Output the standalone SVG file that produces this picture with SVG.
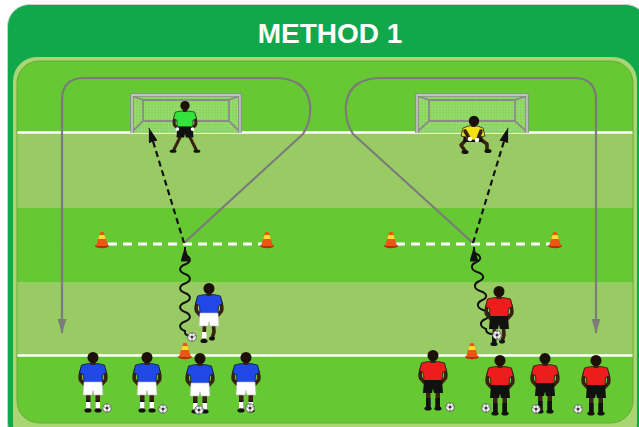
<svg xmlns="http://www.w3.org/2000/svg" width="639" height="427" viewBox="0 0 639 427">
<style>
.skin{fill:#3a2212}
.limb{fill:none;stroke:#3a2212;stroke-width:3.6;stroke-linecap:round;stroke-linejoin:round}
.hair{fill:#1c1009}
.shoe{fill:#111}
.edge{stroke:#111;stroke-width:0.7}
.loop{fill:none;stroke:#7b7b7b;stroke-width:2.2;stroke-linejoin:round}
.pass{fill:none;stroke:#111;stroke-width:2.2;stroke-dasharray:6 4}
.dribble{fill:none;stroke:#111;stroke-width:2}
.mark{fill:none;stroke:#fff;stroke-width:3;stroke-dasharray:9 6}
.line{stroke:#fff;stroke-width:2.6}
.post{fill:none;stroke:#8a8a8a;stroke-width:3.6;stroke-linejoin:round}
.postHi{fill:none;stroke:#d4d4d4;stroke-width:1.3;stroke-linejoin:round}
.back{fill:none;stroke:#8a8a8a;stroke-width:1.8}
.title{font-family:"Liberation Sans",Arial,sans-serif;font-weight:bold;font-size:28px;fill:#fff}
</style>
<defs>
  <pattern id="net" width="3" height="3" patternUnits="userSpaceOnUse">
    <rect width="3" height="3" fill="#8ad560"/>
    <path d="M0,0 H3 M0,0 V3" stroke="#a9e183" stroke-width="0.6"/>
  </pattern>
  <marker id="ahGrey" viewBox="0 0 15 9" refX="14.5" refY="4.5" markerWidth="15" markerHeight="9" markerUnits="userSpaceOnUse" orient="auto">
    <path d="M0,0 L15,4.5 L0,9 Z" fill="#7b7b7b"/>
  </marker>
  <marker id="ahBlack" viewBox="0 0 15 9" refX="14.5" refY="4.5" markerWidth="15" markerHeight="9" markerUnits="userSpaceOnUse" orient="auto">
    <path d="M0,0 L15,4.5 L0,9 Z" fill="#111"/>
  </marker>

  <!-- soccer ball -->
  <g id="ball">
    <circle r="4.3" fill="#f4f4f4" stroke="#555" stroke-width="0.8"/>
    <circle r="1.5" fill="#333"/>
    <path d="M-3.6,-1.4 l1.3,0.5 M3.6,-1.4 l-1.3,0.5 M0,4 v-1.6 M0,-4 v1.4" stroke="#444" stroke-width="0.9"/>
  </g>

  <!-- training cone, origin at base centre -->
  <g id="cone">
    <ellipse cx="0" cy="0" rx="7" ry="2.2" fill="#b3300a"/>
    <path d="M-6,0 L-1.7,-14 H1.7 L6,0 Z" fill="#ec5614"/>
    <path d="M-3.8,-7 L-2.5,-11 H2.5 L3.8,-7 Z" fill="#ffe02a"/>
  </g>

  <!-- shared figure parts, origin at top of head -->
  <g id="head">
    <rect class="skin" x="-2.5" y="8" width="5" height="5"/>
    <circle class="hair" cx="0" cy="5.5" r="5.5"/>
  </g>
  <g id="arms">
    <path class="limb" d="M-10,15 Q-14,24 -12.5,28 L-9,32"/>
    <path class="limb" d="M10,15 Q14,24 12.5,28 L9,32"/>
  </g>
  <path id="shirt" class="edge" d="M-11.5,13 Q0,9.5 11.5,13 L13.5,21 L9.5,22.5 L9,31 L-9,31 L-9.5,22.5 L-13.5,21 Z"/>
  <path id="shorts" d="M-9,30 H9 L10,43 H1 L0,38.5 L-1,43 H-10 Z"/>

  <!-- blue squad, standing -->
  <g id="blueStand">
    <path class="skin" d="M-7,42 h4.5 v15 h-4.5 z M2.5,42 h4.5 v15 h-4.5 z"/>
    <path fill="#fff" d="M-7,49 h4.5 v7.5 h-4.5 z M2.5,49 h4.5 v7.5 h-4.5 z"/>
    <path fill="#111" d="M-7,48.5 h4.5 v1.5 h-4.5 z M2.5,48.5 h4.5 v1.5 h-4.5 z"/>
    <ellipse class="shoe" cx="-5" cy="58.5" rx="3.6" ry="2"/>
    <ellipse class="shoe" cx="5" cy="58.5" rx="3.6" ry="2"/>
    <use href="#arms"/>
    <use href="#shirt" fill="#1f48e6"/>
    <use href="#shorts" fill="#fff" stroke="#bbb" stroke-width="0.6"/>
    <use href="#head"/>
  </g>

  <!-- red squad, standing -->
  <g id="redStand">
    <path class="skin" d="M-7,42 h4.5 v15 h-4.5 z M2.5,42 h4.5 v15 h-4.5 z"/>
    <path fill="#111" d="M-7,48 h4.5 v9 h-4.5 z M2.5,48 h4.5 v9 h-4.5 z"/>
    <ellipse class="shoe" cx="-5" cy="58.5" rx="3.6" ry="2"/>
    <ellipse class="shoe" cx="5" cy="58.5" rx="3.6" ry="2"/>
    <use href="#arms"/>
    <use href="#shirt" fill="#ee1d1d"/>
    <use href="#shorts" fill="#111"/>
    <use href="#head"/>
  </g>

  <!-- running legs for the dribblers -->
  <g id="runLegs">
    <path class="limb" d="M-4.5,42 L-5,56"/>
    <path class="limb" d="M4.5,42 L5,49 L3.5,54"/>
    <ellipse class="shoe" cx="-5" cy="58" rx="3.6" ry="2"/>
    <ellipse class="shoe" cx="3" cy="55.5" rx="3" ry="2"/>
  </g>
  <g id="blueRun">
    <use href="#runLegs"/>
    <path fill="#fff" d="M-7,49 h4.5 v6.5 h-4.5 z"/>
    <use href="#arms"/>
    <use href="#shirt" fill="#1f48e6"/>
    <use href="#shorts" fill="#fff" stroke="#bbb" stroke-width="0.6"/>
    <use href="#head"/>
  </g>
  <g id="redRun">
    <use href="#runLegs"/>
    <path fill="#111" d="M-7,48 h4.5 v8 h-4.5 z"/>
    <use href="#arms"/>
    <use href="#shirt" fill="#ee1d1d"/>
    <use href="#shorts" fill="#111"/>
    <use href="#head"/>
  </g>
</defs>

<!-- frame and title -->
<rect x="7.5" y="4.5" width="640" height="440" rx="22" fill="#10a84b" stroke="#cfcfcf" stroke-width="1"/>
<text class="title" x="330" y="43" text-anchor="middle">METHOD 1</text>

<!-- pitch -->
<g id="pitch">
  <rect x="13" y="57" width="624" height="390" rx="24" fill="#a8d673"/>
  <rect x="17" y="61" width="616" height="362" rx="22" fill="#66c833" stroke="#6ba93a" stroke-width="1"/>
  <rect x="17.5" y="133" width="615" height="75" fill="#99cb64"/>
  <rect x="17.5" y="282" width="615" height="73" fill="#99cb64"/>
  <line class="line" x1="17.5" y1="132.5" x2="632.5" y2="132.5"/>
  <line class="line" x1="17.5" y1="355.5" x2="632.5" y2="355.5"/>
  <path class="mark" d="M108,244 H262 M396,244 H550"/>
</g>

<!-- goals -->
<g id="goal-left">
  <rect x="132" y="96" width="108" height="37" fill="url(#net)"/>
  <path class="back" d="M132,96 L143,100 V121 L132,132 M240,96 L229,100 V121 L240,132 M143,121 H229 M143,100 H229"/>
  <path class="post" d="M132,133 V95 H240 V133"/>
  <path class="postHi" d="M132,133 V95 H240 V133"/>
</g>
<g id="goal-right">
  <rect x="417" y="96" width="110" height="37" fill="url(#net)"/>
  <path class="back" d="M417,96 L429,100 V121 L417,132 M527,96 L515,100 V121 L527,132 M429,121 H515 M429,100 H515"/>
  <path class="post" d="M417,133 V95 H527 V133"/>
  <path class="postHi" d="M417,133 V95 H527 V133"/>
</g>

<!-- cones -->
<g id="cones">
  <use href="#cone" x="102" y="246"/>
  <use href="#cone" x="267" y="246"/>
  <use href="#cone" x="391" y="246"/>
  <use href="#cone" x="555" y="246"/>
  <use href="#cone" x="185" y="357"/>
  <use href="#cone" x="472" y="357"/>
</g>

<!-- goalkeepers -->
<g id="keeper-green" transform="translate(185,101) scale(0.85)">
  <path class="limb" d="M-5,41 L-13,57"/>
  <path class="limb" d="M5,41 L13,57"/>
  <ellipse class="shoe" cx="-14" cy="59" rx="4" ry="2"/>
  <ellipse class="shoe" cx="14" cy="59" rx="4" ry="2"/>
  <use href="#arms"/>
  <use href="#shirt" fill="#33e23b"/>
  <use href="#shorts" fill="#111"/>
  <circle cx="-9" cy="33" r="2.2" fill="#fff"/>
  <circle cx="9" cy="33" r="2.2" fill="#fff"/>
  <use href="#head"/>
</g>
<g id="keeper-yellow">
  <path class="limb" d="M467,139 L461,145 L465,151"/>
  <path class="limb" d="M480,139 L487,144 L487,150"/>
  <ellipse class="shoe" cx="465" cy="152" rx="3.6" ry="2"/>
  <ellipse class="shoe" cx="488" cy="151" rx="3.6" ry="2"/>
  <path fill="#111" d="M464,134 H482 L483,142 H463 Z"/>
  <path class="edge" fill="#f2e010" d="M463,128 Q473,123 483,128 L485,136 L480,137 L479,140 H467 L466,137 L461,136 Z"/>
  <path class="limb" d="M465,131 L469,138"/>
  <path class="limb" d="M481,131 L478,139"/>
  <circle cx="470" cy="139" r="2.2" fill="#fff"/>
  <circle cx="477" cy="140" r="2.2" fill="#fff"/>
  <rect class="skin" x="471.5" y="123" width="4" height="4"/>
  <circle class="hair" cx="474" cy="121" r="5.2"/>
</g>

<!-- movement lines -->
<g id="connectors">
  <path class="loop" marker-end="url(#ahGrey)" d="M184,243 L303,134 C313,118 314,93 297,83 C290,79 283,78 275,78 L84,78 Q62,78 62,100 L62,333"/>
  <path class="loop" marker-end="url(#ahGrey)" d="M473,243 L353,134 C343,118 342,93 359,83 C366,79 373,78 381,78 L574,78 Q596,78 596,100 L596,333"/>
  <path class="pass" marker-end="url(#ahBlack)" d="M184,243 L149,128"/>
  <path class="pass" marker-end="url(#ahBlack)" d="M473,243 L508,128"/>
  <path class="dribble" marker-end="url(#ahBlack)" d="M190,336 Q184,335 185,331 c-6.5,-2.4 -6.5,-7.1 0,-9.5 c6.5,-2.4 6.5,-7.1 0,-9.5 c-6.5,-2.4 -6.5,-7.1 0,-9.5 c6.5,-2.4 6.5,-7.1 0,-9.5 c-6.5,-2.4 -6.5,-7.1 0,-9.5 c6.5,-2.4 6.5,-7.1 0,-9.5 c-6.5,-2.4 -6.5,-7.1 0,-9.5 c6.5,-2.4 6.5,-7.1 0,-9.5 V247"/>
  <path class="dribble" marker-end="url(#ahBlack)" d="M493,334 Q486,334 486,329 c-6.5,-2.4 -6.5,-7.1 -1.5,-9.5 c6.5,-2.4 6.5,-7.1 -1.5,-9.5 c-6.5,-2.4 -6.5,-7.1 -1.5,-9.5 c6.5,-2.4 6.5,-7.1 -1.5,-9.5 c-6.5,-2.4 -6.5,-7.1 -1.5,-9.5 c6.5,-2.4 6.5,-7.1 -1.5,-9.5 c-6.5,-2.4 -6.5,-7.1 -1.5,-9.5 c6.5,-2.4 6.5,-7.1 -1.5,-9.5 V247"/>
</g>

<!-- blue squad -->
<g id="blue-team">
  <use id="blue-dribbler" href="#blueRun" x="209" y="283"/>
  <use id="blue-1" href="#blueStand" x="93" y="352"/>
  <use id="blue-2" href="#blueStand" x="147" y="352"/>
  <use id="blue-3" href="#blueStand" x="200" y="353"/>
  <use id="blue-4" href="#blueStand" x="246" y="352"/>
</g>

<!-- red squad -->
<g id="red-team">
  <use id="red-dribbler" href="#redRun" x="499" y="286"/>
  <use id="red-1" href="#redStand" x="433" y="350"/>
  <use id="red-2" href="#redStand" x="500" y="355"/>
  <use id="red-3" href="#redStand" x="545" y="353"/>
  <use id="red-4" href="#redStand" x="596" y="355"/>
</g>

<!-- balls -->
<g id="balls">
  <use href="#ball" x="192" y="337"/>
  <use href="#ball" x="497" y="335"/>
  <use href="#ball" x="107" y="408"/>
  <use href="#ball" x="163" y="409"/>
  <use href="#ball" x="199" y="410"/>
  <use href="#ball" x="250" y="408"/>
  <use href="#ball" x="450" y="407"/>
  <use href="#ball" x="486" y="408"/>
  <use href="#ball" x="536" y="409"/>
  <use href="#ball" x="578" y="409"/>
</g>
</svg>
